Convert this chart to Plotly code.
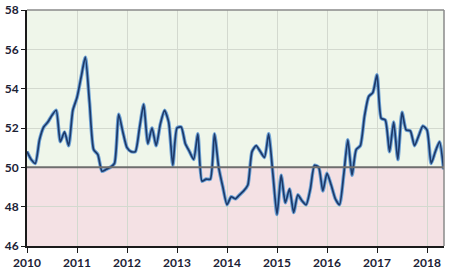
import plotly.graph_objects as go

years = [2010, 2011, 2012, 2013, 2014, 2015, 2016, 2017, 2018]
y_ticks = [46, 48, 50, 52, 54, 56, 58]

pmi_2010 = [50.8, 50.4, 50.2, 51.4, 52.05, 52.3, 52.65, 52.9, 51.3, 51.8, 51.1, 52.9]
pmi_2011 = [53.55, 54.6, 55.6, 53.3, 50.9, 50.65, 49.8, 49.9, 50.0, 50.2, 52.7, 51.8]
pmi_2012 = [51.0, 50.8, 50.8, 52.0, 53.2, 51.2, 52.0, 51.1, 52.2, 52.9, 52.3, 50.1]
pmi_2013 = [52.0, 52.05, 51.2, 50.8, 50.4, 51.7, 49.3, 49.4, 49.4, 51.7, 50.0, 49.0]
pmi_2014 = [48.1, 48.5, 48.4, 48.6, 48.8, 49.1, 50.8, 51.1, 50.8, 50.5, 51.7, 49.7]
pmi_2015 = [47.6, 49.6, 48.2, 48.9, 47.7, 48.6, 48.3, 48.1, 48.9, 50.1, 50.0, 48.8]
pmi_2016 = [49.7, 49.1, 48.4, 48.1, 49.6, 51.4, 49.6, 50.9, 51.1, 52.6, 53.6, 53.8]
pmi_2017 = [54.7, 52.5, 52.4, 50.8, 52.3, 50.4, 52.8, 51.9, 51.85, 51.1, 51.6, 52.1]
pmi_2018 = [51.9, 50.2, 50.8, 51.3, 49.9]

values = pmi_2010 + pmi_2011 + pmi_2012 + pmi_2013 + pmi_2014 + pmi_2015 + pmi_2016 + pmi_2017 + pmi_2018
x = [2010 + i / 12 for i in range(len(values))]

fig = go.Figure()
fig.add_trace(go.Scatter(x=x, y=values, mode="lines",
                         line=dict(color="#6fa3d6", width=3.6, shape="spline", smoothing=0.6),
                         hoverinfo="skip", showlegend=False))
fig.add_trace(go.Scatter(x=x, y=values, mode="lines",
                         line=dict(color="#1d3a6b", width=1.7, shape="spline", smoothing=0.6),
                         showlegend=False))

# background bands
fig.add_shape(type="rect", xref="paper", yref="y", x0=0, x1=1, y0=50, y1=58,
              fillcolor="#eff6ea", line_width=0, layer="below")
fig.add_shape(type="rect", xref="paper", yref="y", x0=0, x1=1, y0=46, y1=50,
              fillcolor="#f4e1e4", line_width=0, layer="below")
# 50 line
fig.add_shape(type="line", xref="paper", yref="y", x0=0, x1=1, y0=50, y1=50,
              line=dict(color="#6e6e6e", width=2), layer="above")
# top/right frame
fig.add_shape(type="line", xref="paper", yref="paper", x0=0, x1=1, y0=1, y1=1,
              line=dict(color="#8a8a8a", width=1.5))
fig.add_shape(type="line", xref="paper", yref="paper", x0=1, x1=1, y0=0, y1=1,
              line=dict(color="#8a8a8a", width=1.5))

tick_font = dict(family="Lato, 'Open Sans', sans-serif", size=12, color="#1c2235", weight="bold")

fig.update_layout(
    width=450, height=270,
    margin=dict(l=27, r=6, t=10, b=24),
    paper_bgcolor="white",
    plot_bgcolor="rgba(0,0,0,0)",
    showlegend=False,
    xaxis=dict(range=[2010, 2018.34], tickvals=years, ticktext=[str(v) for v in years],
               showgrid=True, gridcolor="#d3d9cf", gridwidth=1,
               showline=True, linecolor="#1a1a1a", linewidth=2,
               ticks="outside", ticklen=5, tickcolor="#1a1a1a", automargin=False,
               tickfont=tick_font, zeroline=False, fixedrange=True),
    yaxis=dict(range=[46, 58], tickvals=y_ticks, ticktext=[str(v) for v in y_ticks],
               showgrid=True, gridcolor="#d3d9cf", gridwidth=1,
               showline=True, linecolor="#1a1a1a", linewidth=2,
               ticks="outside", ticklen=4, tickcolor="#1a1a1a", automargin=False,
               tickfont=tick_font, zeroline=False, fixedrange=True),
)

fig.write_html("out.html")
